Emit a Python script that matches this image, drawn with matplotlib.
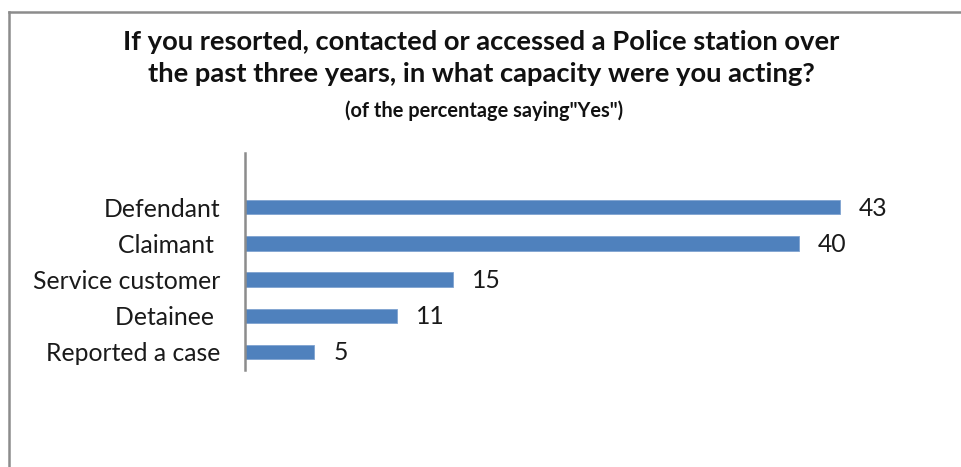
import matplotlib.pyplot as plt
from matplotlib.lines import Line2D

categories = ["Defendant", "Claimant ", "Service customer", "Detainee ", "Reported a case"]
values = [43, 40, 15, 11, 5]

title = ("If you resorted, contacted or accessed a Police station over\n"
         "the past three years, in what capacity were you acting?")
subtitle = '(of the percentage saying"Yes")'

BAR_COLOR = "#4F81BD"
FRAME_COLOR = "#8C8C8C"

plt.rcParams["font.family"] = ["Lato", "DejaVu Sans"]

fig = plt.figure(figsize=(9.62, 4.67), dpi=100)
W, H = 962, 467

# outer frame: only the top and left edges fall inside the canvas
fig.add_artist(Line2D([9 / W, 1.0], [1 - 12 / H, 1 - 12 / H], transform=fig.transFigure,
                      color=FRAME_COLOR, linewidth=1.8))
fig.add_artist(Line2D([9 / W, 9 / W], [0.0, 1 - 12 / H], transform=fig.transFigure,
                      color=FRAME_COLOR, linewidth=1.8))

ax = fig.add_axes([245 / W, (H - 370) / H, 692 / W, 217 / H])

# plot bottom-up so the first category sits at the top
ypos = list(range(len(categories)))
ax.barh(ypos, values[::-1], height=0.4, color=BAR_COLOR, edgecolor="#7FA3D1", linewidth=0.6)
ax.set_xlim(0, 50)
ax.set_ylim(-0.5, 5.5)

ax.set_yticks(ypos)
ax.set_yticklabels(categories[::-1], fontsize=17.8, color="#1a1a1a")
ax.tick_params(axis="y", length=0, pad=18)
ax.set_xticks([])

for side in ("top", "right", "bottom"):
    ax.spines[side].set_visible(False)
ax.spines["left"].set_color(FRAME_COLOR)
ax.spines["left"].set_linewidth(1.8)

for y, v in zip(ypos, values[::-1]):
    ax.annotate(str(v), (v, y), xytext=(19, -1), textcoords="offset pixels",
                va="center", ha="left", fontsize=17.8, color="#1a1a1a")

fig.text(481 / W, 1 - 58 / H, title, ha="center", va="center", fontsize=19.7,
         fontweight="bold", linespacing=1.38, color="#111111")
fig.text(484 / W, 1 - 111 / H, subtitle, ha="center", va="center", fontsize=14.4,
         fontweight="bold", color="#111111")

fig.savefig("out.png", dpi=100)
